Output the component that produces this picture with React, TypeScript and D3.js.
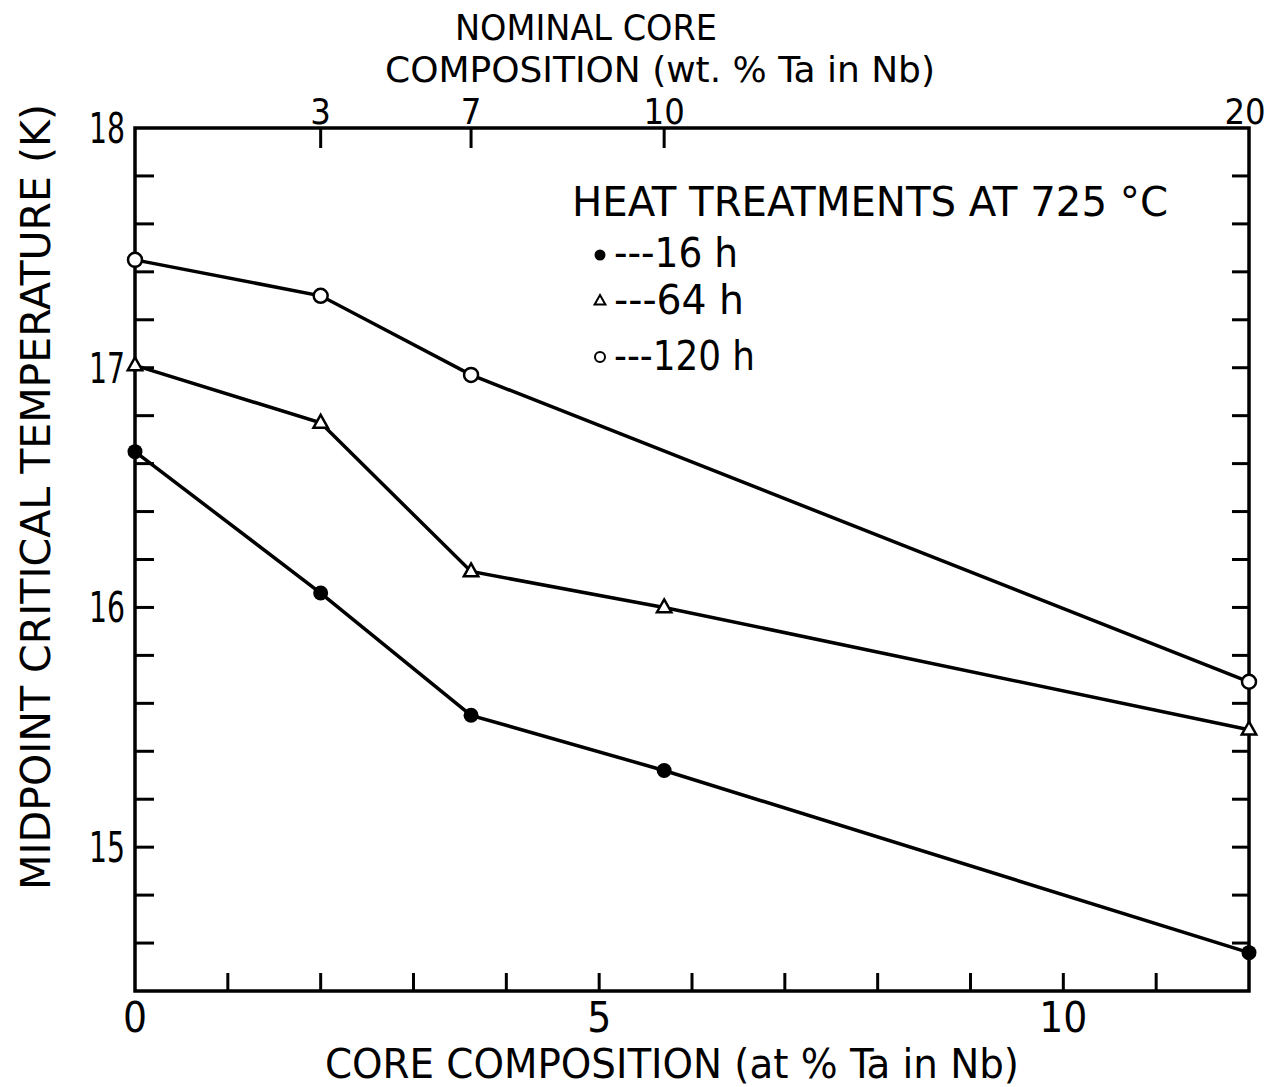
import React from "react";
import * as d3 from "d3";

const xCats = [0, 2.0, 3.62, 5.7, 12.0];
const series16h = [16.65, 16.06, 15.55, 15.32, 14.56];
const series64h = [17.01, 16.77, 16.15, 16.0, 15.49];
const series120x = [0, 2.0, 3.62, 12.0];
const series120h = [17.45, 17.3, 16.97, 15.69];
const topTickLabels = ["3", "7", "10", "20"];
const topTickPos = [2.0, 3.62, 5.7, 12.0];
const bottomTickLabels = [0, 5, 10];
const yTickLabels = [15, 16, 17, 18];

const W = 1269, H = 1087;
const M = { left: 135, right: 1249, top: 128, bottom: 991 };
const FONT = "'Liberation Sans Narrow', 'DejaVu Sans Condensed', 'Liberation Sans', sans-serif";

export default function App() {
  const x = d3.scaleLinear().domain([0, 12]).range([M.left, M.right]);
  const y = d3.scaleLinear().domain([14.4, 18]).range([M.bottom, M.top]);
  const line = d3.line<[number, number]>().x(d => x(d[0])).y(d => y(d[1]));
  const d16 = xCats.map((v, i) => [v, series16h[i]] as [number, number]);
  const d64 = xCats.map((v, i) => [v, series64h[i]] as [number, number]);
  const d120 = series120x.map((v, i) => [v, series120h[i]] as [number, number]);
  const minorY = d3.range(0, 19).map(i => 14.4 + i * 0.2).filter(v => v > 14.41 && v < 17.99);
  const xMinor = d3.range(1, 12);
  const tri = (cx: number, cy: number, r: number) =>
    `M${cx},${cy - r} L${cx + r * 0.9},${cy + r * 0.6} L${cx - r * 0.9},${cy + r * 0.6} Z`;
  const sw = 3.5;
  return (
    <svg width={W} height={H} style={{ position: "absolute", left: 0, top: 0, background: "#fff" }}>
      <rect x={0} y={0} width={W} height={H} fill="#fff" />
      {/* frame */}
      <rect x={M.left} y={M.top} width={M.right - M.left} height={M.bottom - M.top} fill="none" stroke="#000" strokeWidth={3.5} />
      {/* left & right ticks */}
      {minorY.map((v, i) => (
        <g key={"yt" + i}>
          <line x1={M.left} x2={M.left + 19} y1={y(v)} y2={y(v)} stroke="#000" strokeWidth={3} />
          <line x1={M.right} x2={M.right - 17} y1={y(v)} y2={y(v)} stroke="#000" strokeWidth={3} />
        </g>
      ))}
      {/* bottom ticks */}
      {xMinor.map(v => (
        <line key={"xt" + v} x1={x(v)} x2={x(v)} y1={M.bottom} y2={M.bottom - 18} stroke="#000" strokeWidth={3} />
      ))}
      {/* top ticks */}
      {topTickPos.slice(0, 3).map((v, i) => (
        <line key={"tt" + i} x1={x(v)} x2={x(v)} y1={M.top} y2={M.top + 20} stroke="#000" strokeWidth={3} />
      ))}
      {/* y tick labels */}
      {yTickLabels.map(v => (
        <text key={"yl" + v} x={M.left - 10} y={y(v) + 15} textAnchor="end" fontFamily={FONT} fontSize={42} textLength={36} lengthAdjust="spacingAndGlyphs">{v}</text>
      ))}
      {/* x bottom labels */}
      {bottomTickLabels.map(v => (
        <text key={"xl" + v} x={x(v)} y={1032} textAnchor="middle" fontFamily={FONT} fontSize={42}>{v}</text>
      ))}
      {/* top labels */}
      {topTickLabels.map((t, i) => (
        <text key={"tl" + i} x={x(topTickPos[i]) - (i === 3 ? 4 : 0)} y={124} textAnchor="middle" fontFamily={FONT} fontSize={36}>{t}</text>
      ))}
      {/* titles */}
      <text x={586} y={40} textAnchor="middle" fontFamily={FONT} fontSize={36} textLength={262} lengthAdjust="spacingAndGlyphs">NOMINAL  CORE</text>
      <text x={660} y={82} textAnchor="middle" fontFamily={FONT} fontSize={36} textLength={550} lengthAdjust="spacingAndGlyphs">COMPOSITION (wt. % Ta in Nb)</text>
      <text x={672} y={1078} textAnchor="middle" fontFamily={FONT} fontSize={40} textLength={694} lengthAdjust="spacingAndGlyphs">CORE COMPOSITION (at % Ta in Nb)</text>
      <text transform="translate(50,497) rotate(-90)" textAnchor="middle" fontFamily={FONT} fontSize={40} textLength={786} lengthAdjust="spacingAndGlyphs">MIDPOINT CRITICAL TEMPERATURE (K)</text>
      {/* legend */}
      <text x={572} y={216} fontFamily={FONT} fontSize={40} textLength={596} lengthAdjust="spacingAndGlyphs">HEAT TREATMENTS AT 725 °C</text>
      <circle cx={600} cy={255} r={5.5} fill="#000" />
      <text x={614} y={267} fontFamily={FONT} fontSize={40} textLength={124} lengthAdjust="spacingAndGlyphs">---16 h</text>
      <path d={tri(600, 301, 6)} fill="#fff" stroke="#000" strokeWidth={2} />
      <text x={614} y={314} fontFamily={FONT} fontSize={40} textLength={130} lengthAdjust="spacingAndGlyphs">---64 h</text>
      <circle cx={600} cy={357} r={5} fill="#fff" stroke="#000" strokeWidth={2} />
      <text x={614} y={370} fontFamily={FONT} fontSize={40} textLength={141} lengthAdjust="spacingAndGlyphs">---120 h</text>
      {/* lines */}
      <path d={line(d16) || ""} fill="none" stroke="#000" strokeWidth={sw} />
      <path d={line(d64) || ""} fill="none" stroke="#000" strokeWidth={sw} />
      <path d={line(d120) || ""} fill="none" stroke="#000" strokeWidth={sw} />
      {/* markers */}
      {d16.map((d, i) => (
        <circle key={"m16" + i} cx={x(d[0])} cy={y(d[1])} r={7.5} fill="#000" />
      ))}
      {d64.map((d, i) => (
        <path key={"m64" + i} d={tri(x(d[0]), y(d[1]), 8)} fill="#fff" stroke="#000" strokeWidth={2.5} />
      ))}
      {d120.map((d, i) => (
        <circle key={"m120" + i} cx={x(d[0])} cy={y(d[1])} r={7} fill="#fff" stroke="#000" strokeWidth={2.5} />
      ))}
    </svg>
  );
}
